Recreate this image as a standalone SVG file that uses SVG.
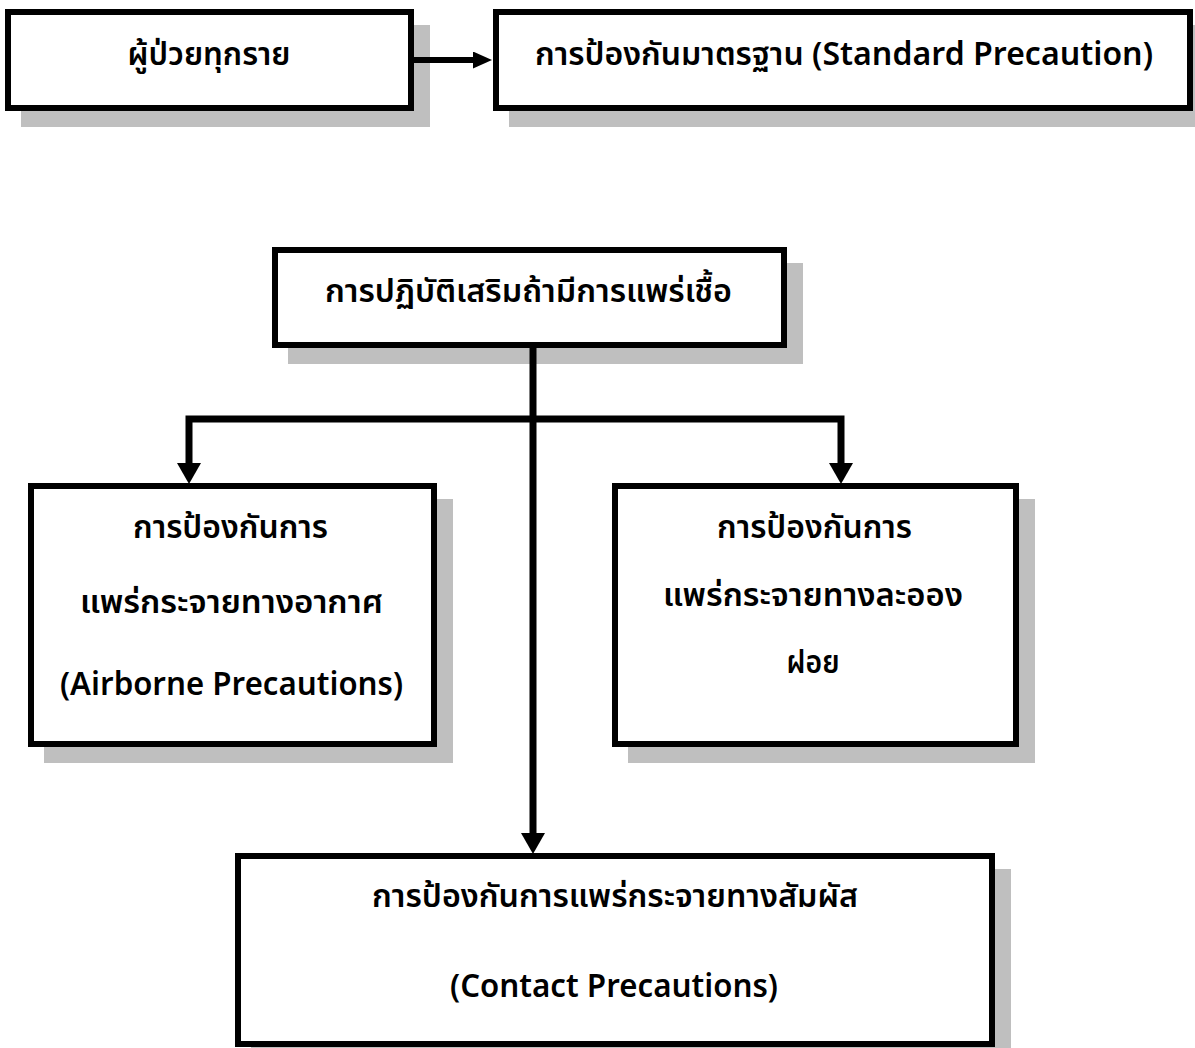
<svg xmlns="http://www.w3.org/2000/svg" width="1195" height="1048" viewBox="0 0 1195 1048">
<defs>
<style>
.shadow{fill:#bfbfbf;stroke:none}
.box{fill:#ffffff;stroke:#000000;stroke-width:6}
.t{font-family:"Tahoma","Leelawadee UI","Noto Sans Thai","Noto Sans","DejaVu Sans",sans-serif;font-size:32px;font-weight:600;fill:#000000;text-anchor:middle}
.conn{fill:none;stroke:#000000;stroke-width:7;stroke-linejoin:miter}
.conn-sm{fill:none;stroke:#000000;stroke-width:6}
</style>
<marker id="arrow" markerUnits="userSpaceOnUse" markerWidth="21" markerHeight="24" refX="0" refY="12" orient="auto">
<path d="M0,0 L21,12 L0,24 z" fill="#000000"/>
</marker>
<marker id="arrowSm" markerUnits="userSpaceOnUse" markerWidth="19" markerHeight="17" refX="0" refY="8.5" orient="auto">
<path d="M0,0 L19,8.5 L0,17 z" fill="#000000"/>
</marker>
</defs>
<rect width="1195" height="1048" fill="#ffffff"/>

<g id="node-all-patients">
<rect class="shadow" x="21" y="25" width="409" height="102"/>
<rect class="box" x="8" y="12" width="403" height="96"/>
<text class="t" x="209" y="65" textLength="163" lengthAdjust="spacingAndGlyphs">ผู้ป่วยทุกราย</text>
</g>

<g id="node-standard">
<rect class="shadow" x="509" y="25" width="700" height="102"/>
<rect class="box" x="496" y="12" width="694" height="96"/>
<text class="t" x="844" y="65" textLength="618" lengthAdjust="spacingAndGlyphs">การป้องกันมาตรฐาน (Standard Precaution)</text>
</g>

<g id="node-additional">
<rect class="shadow" x="288" y="263" width="515" height="101"/>
<rect class="box" x="275" y="250" width="509" height="95"/>
<text class="t" x="528.5" y="302" textLength="407" lengthAdjust="spacingAndGlyphs">การปฏิบัติเสริมถ้ามีการแพร่เชื้อ</text>
</g>

<g id="node-airborne">
<rect class="shadow" x="44" y="499" width="409" height="264"/>
<rect class="box" x="31" y="486" width="403" height="258"/>
<text class="t" x="230.5" y="538" textLength="195" lengthAdjust="spacingAndGlyphs">การป้องกันการ</text>
<text class="t" x="231.5" y="613" textLength="303" lengthAdjust="spacingAndGlyphs">แพร่กระจายทางอากาศ</text>
<text class="t" x="231.5" y="695" textLength="343" lengthAdjust="spacingAndGlyphs">(Airborne Precautions)</text>
</g>

<g id="node-droplet">
<rect class="shadow" x="628" y="499" width="407" height="264"/>
<rect class="box" x="615" y="486" width="401" height="258"/>
<text class="t" x="814.5" y="538" textLength="195" lengthAdjust="spacingAndGlyphs">การป้องกันการ</text>
<text class="t" x="813" y="606" textLength="300" lengthAdjust="spacingAndGlyphs">แพร่กระจายทางละออง</text>
<text class="t" x="813" y="673" textLength="53" lengthAdjust="spacingAndGlyphs">ฝอย</text>
</g>

<g id="node-contact">
<rect class="shadow" x="251" y="869" width="760" height="194"/>
<rect class="box" x="238" y="856" width="754" height="188"/>
<text class="t" x="615" y="907" textLength="486" lengthAdjust="spacingAndGlyphs">การป้องกันการแพร่กระจายทางสัมผัส</text>
<text class="t" x="614" y="997" textLength="328" lengthAdjust="spacingAndGlyphs">(Contact Precautions)</text>
</g>

<g id="connectors">
<path class="conn-sm" d="M414,60 H473" marker-end="url(#arrowSm)"/>
<path class="conn" d="M533,348 V833" marker-end="url(#arrow)"/>
<path class="conn" d="M533,419 H189 V463" marker-end="url(#arrow)"/>
<path class="conn" d="M533,419 H841 V463" marker-end="url(#arrow)"/>
</g>
</svg>
